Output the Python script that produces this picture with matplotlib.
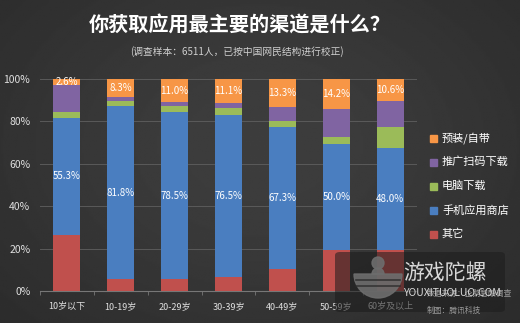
import matplotlib
import numpy as np

matplotlib.use("Agg")

import matplotlib.pyplot as plt  # noqa: E402
from matplotlib.patches import FancyBboxPatch, Wedge  # noqa: E402

plt.rcParams["font.family"] = ["Noto Sans CJK SC", "DejaVu Sans"]

# data (percent), stacked bottom -> top
AGE_GROUPS = ["10岁以下", "10-19岁", "20-29岁", "30-39岁", "40-49岁", "50-59岁", "60岁及以上"]
OTHER = [26.4, 5.5, 5.7, 6.5, 10.2, 19.3, 19.5]
APP_STORE = [55.3, 81.8, 78.5, 76.5, 67.3, 50.0, 48.0]
PC_DOWNLOAD = [2.6, 2.5, 3.1, 3.2, 2.5, 3.5, 10.0]
PROMO_QR = [13.1, 1.9, 1.7, 2.7, 6.7, 13.0, 11.9]
PREINSTALLED = [2.6, 8.3, 11.0, 11.1, 13.3, 14.2, 10.6]

SERIES_NAMES = ["其它", "手机应用商店", "电脑下载", "推广扫码下载", "预装/自带"]
SERIES_COLORS = ["#C0504D", "#4A7EC0", "#9BBB59", "#8064A2", "#F79646"]
LABELLED = {1, 4}  # app store and preinstalled carry value labels

W, H = 520, 323
fig = plt.figure(figsize=(W / 100, H / 100), dpi=100)

# dark background with a lighter centre
bg = fig.add_axes([0, 0, 1, 1])
yy, xx = np.mgrid[0:1:200j, 0:1:300j]
glow = np.exp(-(((xx - 0.5) / 0.6) ** 2 + ((yy - 0.45) / 0.7) ** 2))
bg.imshow(0.15 + 0.09 * glow, cmap="gray", vmin=0, vmax=1, aspect="auto",
          extent=[0, 1, 0, 1])
bg.set_xlim(0, 1)
bg.set_ylim(0, 1)
bg.axis("off")

ax = fig.add_axes([40 / W, 1 - 291 / H, 377 / W, 212 / H])
ax.set_facecolor("none")

x = np.arange(len(AGE_GROUPS))
series = [OTHER, APP_STORE, PC_DOWNLOAD, PROMO_QR, PREINSTALLED]
bottom = np.zeros(len(AGE_GROUPS))
for i, (vals, color) in enumerate(zip(series, SERIES_COLORS)):
    vals = np.asarray(vals)
    ax.bar(x, vals, 0.5, bottom=bottom, color=color, zorder=3)
    if i in LABELLED:
        for xi, b, v in zip(x, bottom, vals):
            ax.text(xi, b + v / 2, f"{v:.1f}%", ha="center", va="center",
                    color="white", fontsize=7, zorder=4)
    bottom += vals

ax.set_xlim(-0.5, len(AGE_GROUPS) - 0.5)
ax.set_ylim(0, 100)
ax.set_yticks(np.arange(0, 101, 20))
ax.set_yticklabels([f"{v}%" for v in range(0, 101, 20)])
ax.set_xticks(x)
ax.set_xticklabels(AGE_GROUPS)
ax.set_xticks(np.arange(-0.5, len(AGE_GROUPS), 1), minor=True)
ax.tick_params(axis="x", which="major", length=0, colors="#e0e0e0",
               labelsize=6.5, pad=8)
ax.tick_params(axis="x", which="minor", length=3, color="#777777")
ax.tick_params(axis="y", length=0, colors="#e0e0e0", labelsize=7.5, pad=7)
ax.grid(axis="y", color="#5a5a5a", linewidth=0.7, zorder=0)
for side in ["top", "right", "left"]:
    ax.spines[side].set_visible(False)
ax.spines["bottom"].set_color("#777777")

# legend drawn as squares + text, top entry first
for k, idx in enumerate([4, 3, 2, 1, 0]):
    ly = 1 - (138 + 24 * k) / H
    fig.patches.append(plt.Rectangle((430 / W, ly - 3.5 / H), 7 / W, 7 / H,
                                     transform=fig.transFigure,
                                     color=SERIES_COLORS[idx], figure=fig))
    fig.text(442 / W, ly, SERIES_NAMES[idx], color="white", fontsize=8,
             va="center", ha="left")

fig.text(240 / W, 1 - 25 / H, "你获取应用最主要的渠道是什么？", color="white",
         fontsize=14.5, fontweight="bold", ha="center", va="center")
fig.text(237 / W, 1 - 52 / H, "(调查样本：6511人，已按中国网民结构进行校正)",
         color="#d0d0d0", fontsize=7, ha="center", va="center")

# source note and watermark
fig.text(427 / W, 1 - 294 / H, "数据来源：企鹅智酷调查", color="#9a9a9a",
         fontsize=5.6, ha="left", va="center")
fig.text(427 / W, 1 - 311 / H, "制图：腾讯科技", color="#9a9a9a",
         fontsize=5.6, ha="left", va="center")
fig.patches.append(FancyBboxPatch((335 / W, 1 - 312 / H), 170 / W, 60 / H,
                                  boxstyle="round,pad=0,rounding_size=0.01",
                                  transform=fig.transFigure, facecolor="#1c1c1c",
                                  alpha=0.55, edgecolor="none", figure=fig))
# spinning-top logo: bowl plus drop
logo = fig.add_axes([350 / W, 1 - 300 / H, 56 / W, 48 / H])
logo.set_xlim(0, 56)
logo.set_ylim(0, 48)
logo.axis("off")
logo.add_patch(Wedge((28, 26), 24, 180, 360, color="#d0d0d0", alpha=0.9))
for yline in [14, 20]:
    logo.plot([6, 50], [yline, yline], color="#3a3a3a", lw=1.2, alpha=0.8)
logo.add_patch(plt.Circle((28, 37), 6, color="#d0d0d0", alpha=0.9))
logo.add_patch(Wedge((28, 26), 6, 0, 180, color="#d0d0d0", alpha=0.9))

fig.text(403 / W, 1 - 273 / H, "游戏陀螺", color="#d8d8d8", fontsize=15,
         ha="left", va="center")
fig.text(403 / W, 1 - 293 / H, "YOUXITUOLUO.COM", color="#d8d8d8",
         fontsize=7.5, ha="left", va="center")

fig.savefig("out.png", dpi=100)
